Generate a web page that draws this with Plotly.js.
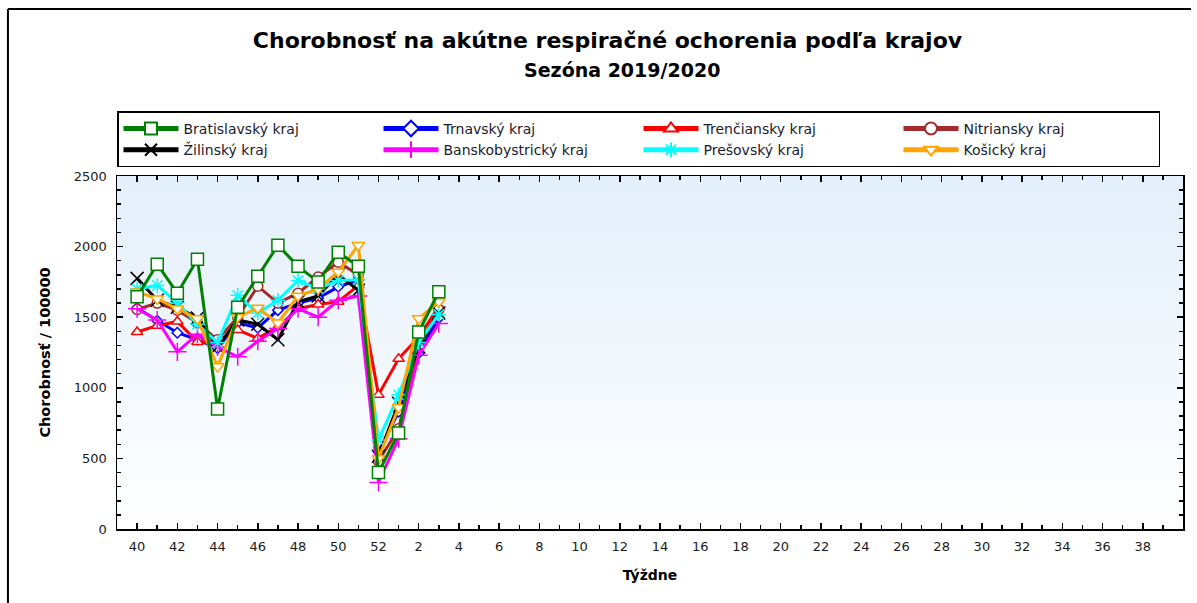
<!DOCTYPE html>
<html><head><meta charset="utf-8">
<script src="https://cdn.plot.ly/plotly-3.0.1.min.js"></script>
<style>html,body{margin:0;padding:0;background:#fff}#chart{width:1197px;height:603px}</style>
</head><body><div id="chart"></div>
<script>
// Season week order (x-axis categories)
const seasonWeeks = [40,41,42,43,44,45,46,47,48,49,50,51,52,1,2,3,4,5,6,7,8,9,10,11,12,13,14,15,16,17,18,19,20,21,22,23,24,25,26,27,28,29,30,31,32,33,34,35,36,37,38,39];
const tickWeeks = [40,42,44,46,48,50,52,2,4,6,8,10,12,14,16,18,20,22,24,26,28,30,32,34,36,38];
// Weeks with data
const weeks = [40,41,42,43,44,45,46,47,48,49,50,51,52,1,2,3];

const bratislavsky    = [1645,1875,1670,1910,850,1570,1790,2010,1860,1750,1960,1860,400,680,1395,1680];
const trnavsky        = [1565,1475,1390,1340,1280,1460,1425,1550,1600,1635,1715,1765,545,830,1245,1495];
const trenciansky     = [1395,1440,1470,1325,1330,1410,1350,1430,1560,1590,1610,1725,950,1205,1360,1575];
const nitriansky      = [1555,1600,1550,1460,1340,1500,1720,1600,1670,1785,1890,1800,480,710,1300,1555];
const zilinsky        = [1775,1620,1570,1495,1290,1480,1450,1340,1610,1650,1800,1690,515,890,1290,1530];
const banskobystricky = [1560,1480,1255,1380,1290,1220,1330,1420,1560,1500,1620,1650,330,640,1230,1455];
const presovsky       = [1700,1725,1600,1450,1320,1655,1530,1620,1760,1700,1760,1765,630,950,1320,1520];
const kosicky         = [1680,1630,1560,1490,1150,1500,1565,1460,1650,1700,1820,2010,500,860,1490,1610];

const names = ['Bratislavský kraj','Trnavský kraj','Trenčiansky kraj','Nitriansky kraj',
               'Žilinský kraj','Banskobystrický kraj','Prešovský kraj','Košický kraj'];

const idx = w => seasonWeeks.indexOf(w);
const xs = weeks.map(idx);

function series(name, y, color, symbol, size, rank, fillWhite) {
  return {
    type:'scatter', mode:'lines+markers', name:name, x:xs, y:y, legendrank:rank,
    line:{color:color, width:3},
    marker:{symbol:symbol, size:size, color: fillWhite ? '#ffffff' : color,
            line:{color:color, width:1.5}},
    hoverinfo:'skip'
  };
}

const traces = [
  series(names[1], trnavsky, '#0000ff', 'diamond', 8, 2, true),
  series(names[2], trenciansky, '#ff0000', 'triangle-up', 10, 3, true),
  series(names[3], nitriansky, '#a52a2a', 'circle', 10, 4, true),
  series(names[4], zilinsky, '#000000', 'x-thin-open', 13, 5, false),
  series(names[5], banskobystricky, '#ff00ff', 'cross-thin-open', 13, 6, false),
  series(names[6], presovsky, '#00ffff', 'asterisk-open', 12, 7, false),
  series(names[7], kosicky, '#ffa500', 'triangle-down', 11, 8, true),
  series(names[0], bratislavsky, '#008000', 'square', 12, 1, true)
];

const bgSvg = '<svg xmlns="http://www.w3.org/2000/svg" width="100" height="100" preserveAspectRatio="none"><defs><linearGradient id="g" x1="0" y1="0" x2="0" y2="1"><stop offset="0" stop-color="#e3effb"/><stop offset="1" stop-color="#ffffff"/></linearGradient></defs><rect width="100" height="100" fill="url(#g)"/></svg>';

const fontMain = 'DejaVu Sans, Verdana, sans-serif';
const axisCommon = {
  showline:true, linecolor:'#000', linewidth:1.5, showgrid:false, zeroline:false,
  ticks:'inside', ticklen:6, tickwidth:1.5, tickcolor:'#000', mirror:'ticks',
  tickfont:{family:fontMain, size:13, color:'#1a1a1a'}
};

const layout = {
  width:1197, height:603,
  margin:{l:117, r:14, t:176, b:74},
  paper_bgcolor:'#ffffff', plot_bgcolor:'rgba(0,0,0,0)',
  font:{family:fontMain, color:'#000'},
  title:{text:'<b>Chorobnosť na akútne respiračné ochorenia podľa krajov</b>',
         font:{family:fontMain, size:22, color:'#000'}, x:0.5075, xref:'container', xanchor:'center',
         y:0.933, yref:'container', yanchor:'middle'},
  annotations:[{text:'<b>Sezóna 2019/2020</b>', xref:'paper', yref:'paper', showarrow:false,
    x:(622-117)/1066, y:(529-70)/353, xanchor:'center', yanchor:'middle',
    font:{family:fontMain, size:19, color:'#000'}}],
  xaxis: Object.assign({}, axisCommon, {
    range:[-1, 52], tickmode:'array', tickvals:tickWeeks.map(idx), ticktext:tickWeeks.map(String),
    ticklabelstandoff:5,
    minor:{tickmode:'linear', tick0:0, dtick:1, ticks:'inside', ticklen:4, tickwidth:1.5, tickcolor:'#000'},
    title:{text:'<b>Týždne</b>', font:{family:fontMain, size:14, color:'#000'}, standoff:17}
  }),
  yaxis: Object.assign({}, axisCommon, {
    range:[0, 2500], tickmode:'linear', tick0:0, dtick:500,
    minor:{tickmode:'linear', tick0:0, dtick:100, ticks:'inside', ticklen:4, tickwidth:1.5, tickcolor:'#000'},
    ticklabelstandoff:6,
    title:{text:'<b>Chorobnosť / 100000</b>', font:{family:fontMain, size:14.5, color:'#000'}, standoff:19}
  }),
  xaxis2:{overlaying:'x', matches:'x', anchor:'y', side:'bottom', showline:false, showgrid:false, zeroline:false,
    showticklabels:false, tickmode:'array', tickvals:tickWeeks.map(idx), ticks:'outside', ticklen:6, tickwidth:1.5, tickcolor:'#000',
    minor:{tickmode:'linear', tick0:0, dtick:1, ticks:'outside', ticklen:4, tickwidth:1.5, tickcolor:'#000'}},
  yaxis2:{overlaying:'y', matches:'y', anchor:'x', side:'left', showline:false, showgrid:false, zeroline:false,
    showticklabels:false, tickmode:'linear', tick0:0, dtick:500, ticks:'outside', ticklen:6, tickwidth:1.5, tickcolor:'#000',
    minor:{tickmode:'linear', tick0:0, dtick:100, ticks:'outside', ticklen:4, tickwidth:1.5, tickcolor:'#000'}},
  legend:{orientation:'h', x:0, xanchor:'left', y:1.183, yanchor:'top', entrywidth:190, entrywidthmode:'pixels',
    itemwidth:55,
    bgcolor:'#ffffff', bordercolor:'#000', borderwidth:1.5,
    font:{family:fontMain, size:14, color:'#1a1a2e'}, traceorder:'normal', itemsizing:'constant'},
  images:[{source:'data:image/svg+xml;charset=utf-8,' + encodeURIComponent(bgSvg),
    xref:'paper', yref:'paper', x:0, y:1, sizex:1, sizey:1, sizing:'stretch', layer:'below', xanchor:'left', yanchor:'top'}],
  shapes:[
    {type:'line', xref:'paper', yref:'paper', x0:-0.1023, x1:1.0075, y0:1.473, y1:1.473, line:{color:'#000', width:2}},
    {type:'line', xref:'paper', yref:'paper', x0:-0.1023, x1:-0.1023, y0:1.473, y1:-0.22, line:{color:'#000', width:2}}
  ],
  showlegend:true
};

Plotly.newPlot('chart', traces, layout, {displayModeBar:false, staticPlot:true});
</script>
</body></html>
